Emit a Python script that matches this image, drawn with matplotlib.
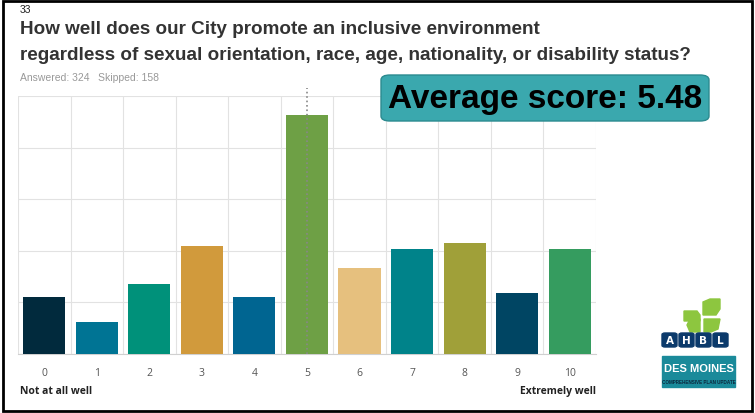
import numpy as np
import matplotlib.pyplot as plt
from matplotlib.patches import FancyBboxPatch, Rectangle, Polygon

# survey responses per score (answered 324)
scores = ['0', '1', '2', '3', '4', '5', '6', '7', '8', '9', '10']
counts = [18, 10, 22, 34, 18, 75, 27, 33, 35, 19, 33]
answered = 324
skipped = 158
colors = ['#012a3d', '#007494', '#00917a', '#d19a3c', '#006591', '#6ea045',
          '#e6c07e', '#00838a', '#a0a039', '#004563', '#359c5f']

pct = np.array(counts) / answered * 100
avg = np.sum(np.arange(len(counts)) * np.array(counts)) / answered

fig = plt.figure(figsize=(7.55, 4.14), dpi=100)
fig.patch.set_facecolor('white')

# slide frame
fig.add_artist(Rectangle((0.004, 0.006), 0.992, 0.988, transform=fig.transFigure,
                         fill=False, edgecolor='black', linewidth=2))

ax = fig.add_axes([0.0238, 0.1425, 0.7655, 0.6232])
x = np.arange(len(scores))
ax.bar(x, pct, width=0.8, color=colors, zorder=3)
ax.set_xlim(-0.5, len(scores) - 0.5)
ax.set_ylim(0, 25)
ax.set_yticks(np.arange(0, 26, 5))
ax.set_yticklabels([])
ax.set_xticks(x)
ax.set_xticklabels(scores, fontsize=7.5, color='#555555', family='Open Sans')
ax.set_xticks(np.arange(-0.5, len(scores), 1), minor=True)
ax.grid(True, which='minor', axis='x', color='#e2e2e2', linewidth=0.8, zorder=0)
ax.grid(True, which='major', axis='y', color='#e2e2e2', linewidth=0.8, zorder=0)
ax.tick_params(axis='both', which='both', length=0, pad=9)
for s in ['top', 'right', 'left']:
    ax.spines[s].set_visible(False)
ax.spines['bottom'].set_color('#d0d0d0')

# dotted marker line at 5
ax.plot([5, 5], [0, 25.8], color='#888888', linestyle=':', linewidth=1.2,
        zorder=4, clip_on=False)

ax.text(0.003, -0.14, 'Not at all well', transform=ax.transAxes, fontsize=7.5,
        fontweight='bold', family='Open Sans', ha='left', va='center', color='#222222')
ax.text(1, -0.14, 'Extremely well', transform=ax.transAxes, fontsize=7.5,
        fontweight='bold', family='Open Sans', ha='right', va='center', color='#222222')

# title block
fig.text(20 / 755, 1 - 10 / 414, '33', fontsize=7.5, family='Liberation Sans',
         va='center', ha='left', color='#222222')
fig.text(20 / 755, 1 - 29 / 414, 'How well does our City promote an inclusive environment',
         fontsize=13.6, fontweight='bold', family='Liberation Sans', va='center',
         ha='left', color='#333333')
fig.text(20 / 755, 1 - 55 / 414,
         'regardless of sexual orientation, race, age, nationality, or disability status?',
         fontsize=13.6, fontweight='bold', family='Liberation Sans', va='center',
         ha='left', color='#333333')
fig.text(20 / 755, 1 - 78 / 414, 'Answered: %d   Skipped: %d' % (answered, skipped),
         fontsize=7.5, family='Liberation Sans', va='center', ha='left', color='#999999')

# average score box
box = FancyBboxPatch((381 / 755, 1 - 122 / 414), 328 / 755, 46 / 414,
                     boxstyle='round,pad=0,rounding_size=0.012',
                     transform=fig.transFigure, facecolor='#3aa8ae',
                     edgecolor='#2b8a8f', linewidth=1)
fig.add_artist(box)
fig.text(545 / 755, 1 - 100 / 414, 'Average score: %.2f' % avg, fontsize=24,
         fontweight='bold', family='Liberation Sans', ha='center', va='center',
         color='black')

# logos (rough)
def fx(px):
    return px / 755

def fy(py):
    return 1 - py / 414

leaf = '#8dc63f'
leaves = [
    [(703, 316), (703, 303), (710, 300), (720, 300), (720, 310), (716, 316)],
    [(700, 316), (697, 312), (684, 312), (684, 322), (700, 322)],
    [(704, 320), (720, 320), (718, 330), (711, 333), (704, 333)],
    [(700, 320), (700, 333), (690, 333), (687, 326), (690, 320)],
]
for lf in leaves:
    fig.add_artist(Polygon([(fx(a), fy(b)) for a, b in lf], closed=True,
                           transform=fig.transFigure, color=leaf))
for i, ch in enumerate('AHBL'):
    x0 = 662 + i * 17
    fig.add_artist(FancyBboxPatch((fx(x0), fy(348)), fx(15), 14 / 414,
                                  boxstyle='round,pad=0,rounding_size=0.004',
                                  transform=fig.transFigure, color='#0b3a6b'))
    fig.text(fx(x0 + 7.5), fy(341), ch, fontsize=7.5, fontweight='bold',
             color='white', ha='center', va='center', family='DejaVu Sans')
fig.add_artist(Rectangle((fx(662), fy(388)), fx(73), 31 / 414,
                         transform=fig.transFigure, color='#1a8a9a'))
fig.text(fx(698.5), fy(369), 'DES MOINES', fontsize=8, fontweight='bold',
         color='white', ha='center', va='center', family='Liberation Sans')
fig.text(fx(698.5), fy(383), 'COMPREHENSIVE PLAN UPDATE', fontsize=3.3,
         fontweight='bold', color='#0b2a40', ha='center', va='center',
         family='Liberation Sans')

fig.savefig('out.png', dpi=100)
